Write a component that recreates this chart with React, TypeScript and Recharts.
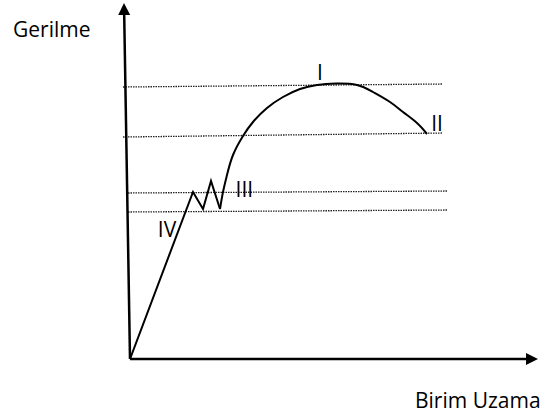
import { LineChart, Line, XAxis, YAxis, ReferenceLine, ReferenceDot } from "recharts";

// stress-strain sketch, arbitrary units (strain on x, stress on y)
const elasticPart = [
  { x: 0, y: 0 },
  { x: 15.75, y: 41.75 },
  { x: 18.25, y: 37.5 },
  { x: 20.25, y: 44.5 },
  { x: 22.5, y: 37.5 },
];

const plasticPart = [
  { x: 22.5, y: 37.5 },
  { x: 23.25, y: 41.75 },
  { x: 24.25, y: 46 },
  { x: 25.75, y: 51 },
  { x: 28.25, y: 55.75 },
  { x: 30.75, y: 59.25 },
  { x: 34.25, y: 62.75 },
  { x: 38.25, y: 65.5 },
  { x: 42.5, y: 67.5 },
  { x: 46.75, y: 68.5 },
  { x: 51.5, y: 68.85 },
  { x: 56.75, y: 68.5 },
  { x: 60.75, y: 66.75 },
  { x: 65, y: 64.25 },
  { x: 68.25, y: 61.75 },
  { x: 71.75, y: 59 },
  { x: 74.25, y: 56.25 },
];

// guide levels (start / end of each dotted line)
const levels = [
  { x1: -1.75, y1: 68, x2: 78.25, y2: 68.75 },
  { x1: -1.75, y1: 55.5, x2: 78.25, y2: 56.5 },
  { x1: -0.5, y1: 41.5, x2: 79.5, y2: 42 },
  { x1: -0.5, y1: 36.75, x2: 79.5, y2: 37.25 },
];

const regionLabels = [
  { text: "I", x: 47.5, y: 69.75 },
  { text: "II", x: 76.75, y: 57 },
  { text: "III", x: 28.6, y: 40.5 },
  { text: "IV", x: 9.25, y: 30.5 },
];

const FONT = "'Open Sans', sans-serif";

function ArrowShape(p: any) {
  const { x1, y1, x2, y2 } = p;
  const len = Math.hypot(x2 - x1, y2 - y1) || 1;
  const ux = (x2 - x1) / len;
  const uy = (y2 - y1) / len;
  const head = 12;
  const half = 6;
  const bx = x2 - ux * head;
  const by = y2 - uy * head;
  const nx = -uy;
  const ny = ux;
  return (
    <g>
      <line x1={x1} y1={y1} x2={bx} y2={by} stroke="#000" strokeWidth={2.5} />
      <polygon
        points={`${x2},${y2} ${bx + nx * half},${by + ny * half} ${bx - nx * half},${by - ny * half}`}
        fill="#000"
      />
    </g>
  );
}

function NumeralShape(text: string) {
  return (p: any) => (
    <text x={p.cx} y={p.cy} textAnchor="middle" fontFamily={FONT} fontSize={21} fill="#000">
      {text}
    </text>
  );
}

export default function App() {
  return (
    <div style={{ position: "absolute", left: 0, top: 0, width: 553, height: 419, background: "#fff" }}>
      <LineChart width={553} height={419} margin={{ top: 3, right: 15, bottom: 60, left: 122 }}>
        <XAxis type="number" dataKey="x" domain={[-2, 102]} hide height={0} allowDataOverflow />
        <YAxis type="number" dataKey="y" domain={[0, 89]} hide width={0} allowDataOverflow />

        {levels.map((l, i) => (
          <ReferenceLine
            key={i}
            segment={[
              { x: l.x1, y: l.y1 },
              { x: l.x2, y: l.y2 },
            ]}
            stroke="#222"
            strokeWidth={1.3}
            strokeDasharray="1.5 1"
          />
        ))}

        <ReferenceLine
          segment={[
            { x: 0, y: 0 },
            { x: -1.5, y: 89 },
          ]}
          shape={ArrowShape}
        />
        <ReferenceLine
          segment={[
            { x: 0, y: 0 },
            { x: 102, y: 0 },
          ]}
          shape={ArrowShape}
        />

        <Line
          data={elasticPart}
          dataKey="y"
          type="linear"
          stroke="#000"
          strokeWidth={2}
          dot={false}
          isAnimationActive={false}
        />
        <Line
          data={plasticPart}
          dataKey="y"
          type="natural"
          stroke="#000"
          strokeWidth={2}
          dot={false}
          isAnimationActive={false}
        />

        {regionLabels.map((l) => (
          <ReferenceDot key={l.text} x={l.x} y={l.y} r={0} shape={NumeralShape(l.text)} />
        ))}

        <text x={13} y={37} fontFamily={FONT} fontSize={21} fill="#000">
          Gerilme
        </text>
        <text x={415} y={408} fontFamily={FONT} fontSize={21} fill="#000">
          Birim Uzama
        </text>
      </LineChart>
    </div>
  );
}
